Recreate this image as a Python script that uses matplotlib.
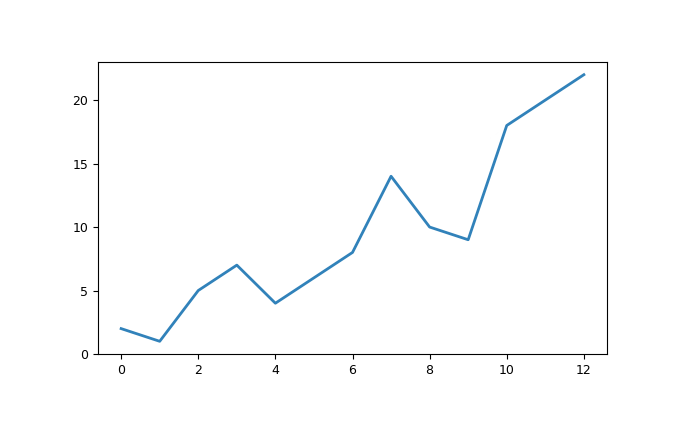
import matplotlib
matplotlib.use("Agg")
import matplotlib.pyplot as plt

x_values = [0, 1, 2, 3, 4, 5, 6, 7, 8, 9, 10, 11, 12]
y_values = [2, 1, 5, 7, 4, 6, 8, 14, 10, 9, 18, 20, 22]

fig = plt.figure(figsize=(6.75, 4.25), dpi=100)
ax = fig.add_axes([98 / 675, 1 - 354 / 425, (607 - 98) / 675, (354 - 62) / 425])
ax.plot(x_values, y_values, color="#1f77b4", alpha=0.92, linewidth=2)
ax.set_xticks([0, 2, 4, 6, 8, 10, 12])
ax.set_yticks([0, 5, 10, 15, 20])
ax.set_ylim(0, 23)
ax.tick_params(labelsize=9)

fig.savefig("out.png", dpi=100)
